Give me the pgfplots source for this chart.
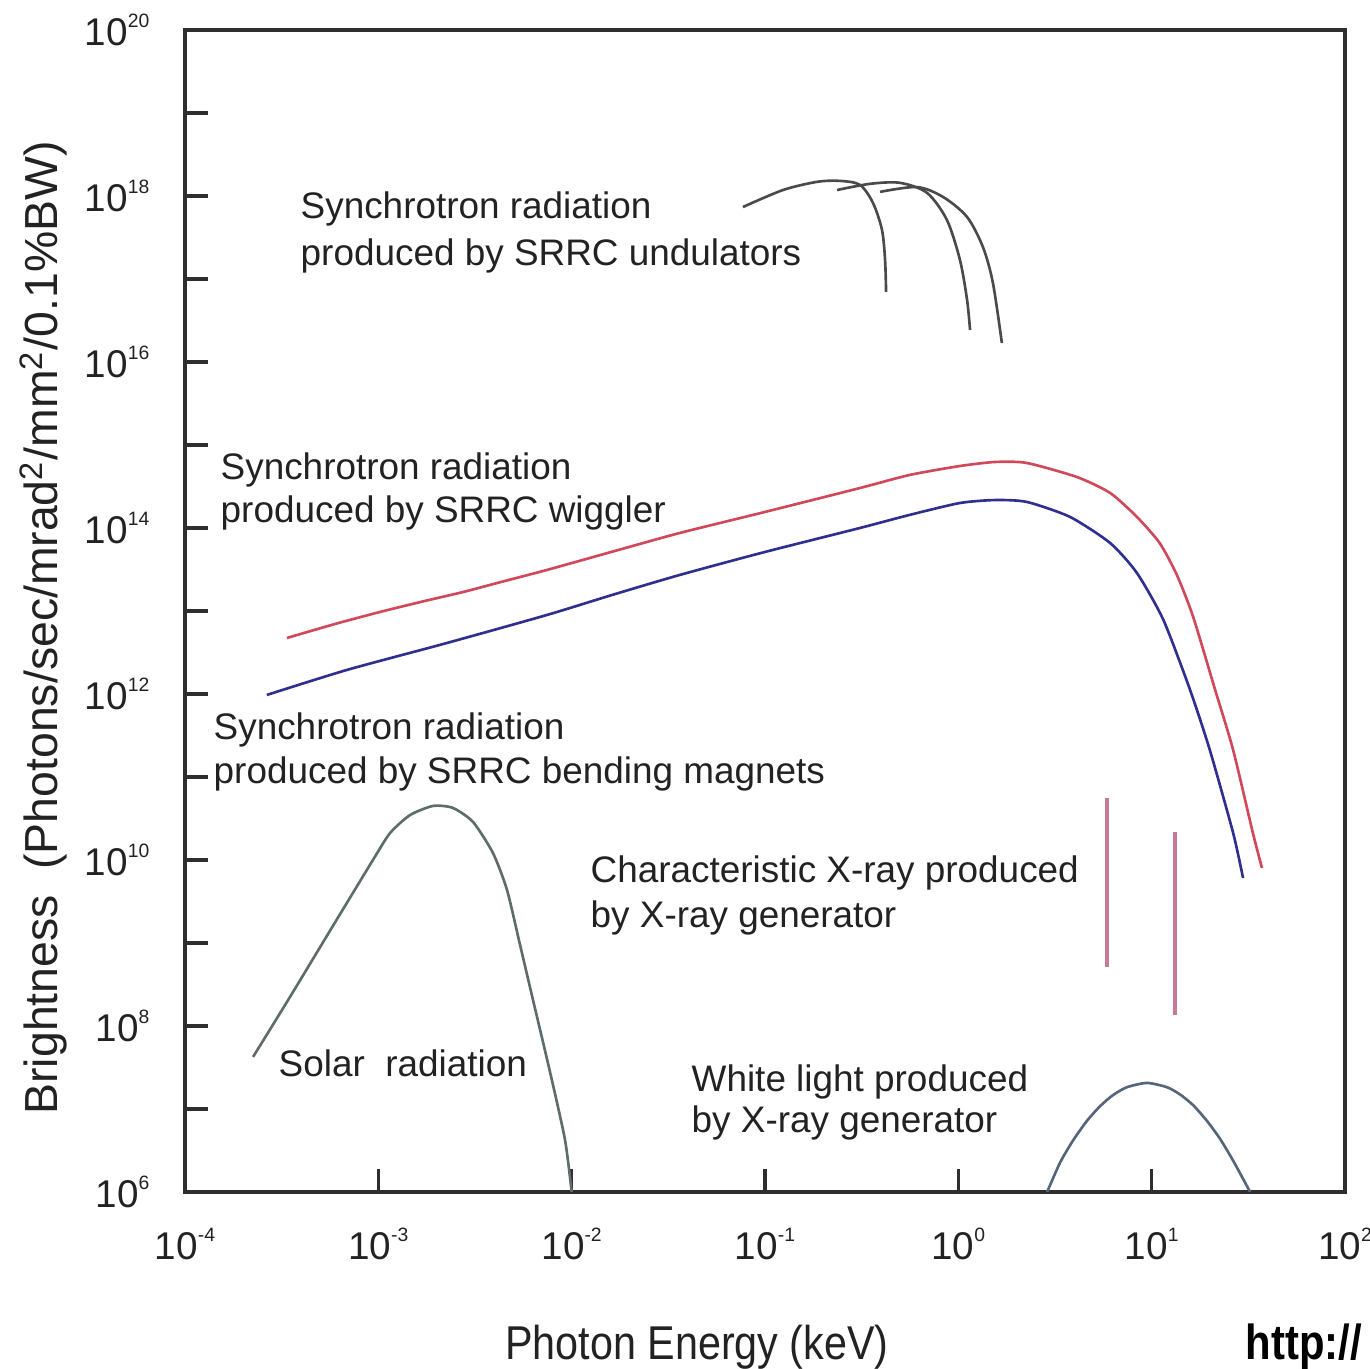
\documentclass[border=0pt]{standalone}
\usepackage{fontspec}
\setmainfont{Liberation Sans}
\usepackage{pgfplots}
\pgfplotsset{compat=1.18}
\usepackage{graphicx}
\definecolor{axisc}{HTML}{2E2E2E}
\definecolor{redc}{HTML}{D0485A}
\definecolor{bluec}{HTML}{2F2F8F}
\definecolor{undc}{HTML}{4A4A4A}
\definecolor{solc}{HTML}{5E6C6C}
\definecolor{whc}{HTML}{55657A}
\definecolor{chc}{HTML}{C87A94}
\definecolor{txt}{HTML}{222222}
\newcommand{\tl}[1]{10\raisebox{5.3pt}{\fontsize{5.5}{6}\selectfont #1}}
\begin{document}
\begin{tikzpicture}
\begin{axis}[
  at={(0,0)}, anchor=south west,
  scale only axis, width=116mm, height=116.2mm,
  xmode=log, ymode=log,
  xmin=1e-4, xmax=1e2, ymin=1e6, ymax=1e20,
  axis line style={line width=1.1pt, color=axisc},
  tick align=inside, xtick pos=bottom, ytick pos=left,
  major tick length=2.3mm,
  major tick style={line width=0.9pt, color=axisc},
  minor tick length=0pt, minor tick style={draw=none},
  xtick={1e-4,1e-3,1e-2,1e-1,1,1e1,1e2},
  xticklabels={\tl{-4},\tl{-3},\tl{-2},\tl{-1},\tl{0},\tl{1},\tl{2}},
  ytick={1e6,1e7,1e8,1e9,1e10,1e11,1e12,1e13,1e14,1e15,1e16,1e17,1e18,1e19,1e20},
  yticklabels={\tl{6},,\tl{8},,\tl{10},,\tl{12},,\tl{14},,\tl{16},,\tl{18},,\tl{20}},
  tick label style={font=\fontsize{11}{13}\selectfont, text=txt},
  xticklabel style={anchor=base, inner sep=0pt, yshift=-6.8mm},
  yticklabel style={anchor=east, inner sep=0pt, xshift=-3.5mm},
  every axis plot/.append style={line width=0.75pt},
]
% wiggler (red)
\addplot[redc, smooth, tension=0.4] coordinates {
(3.37e-4,4.73e12) (5.97e-4,6.97e12) (1.02e-3,9.73e12) (1.74e-3,1.32e13)
(2.74e-3,1.69e13) (4.52e-3,2.30e13) (7.45e-3,3.12e13) (1.67e-2,5.28e13)
(3.63e-2,8.71e13) (0.1,1.56e14) (0.31,3.03e14) (0.562,4.36e14) (1.02,5.58e14)
(1.55,6.24e14) (2.26,6.07e14) (4.11,4.11e14) (6.10,2.64e14) (8.39,1.36e14)
(11.0,6.59e13) (13.5,2.72e13) (16.4,8.47e12) (21.3,1.12e12) (26.4,2.11e11)
(33.4,2.11e10) (37.2,8.02e9)};
% bending magnets (blue)
\addplot[bluec, smooth, tension=0.4] coordinates {
(2.65e-4,9.73e11) (6.89e-4,1.95e12) (2.26e-3,4.11e12) (7.45e-3,8.95e12)
(1.62e-2,1.56e13) (3.63e-2,2.72e13) (0.1,5.14e13) (0.31,1.0e14) (0.562,1.44e14)
(1.02,2.0e14) (1.55,2.17e14) (2.26,2.06e14) (3.78,1.36e14) (6.10,6.59e13)
(8.39,2.87e13) (11.5,7.80e12) (15.8,1.12e12) (20.0,2.11e11) (26.4,2.11e10)
(29.7,6.07e9)};
% undulators
\addplot[undc, smooth, tension=0.5] coordinates {
(7.69e-2,7.36e17) (0.124,1.18e18) (0.186,1.48e18) (0.244,1.52e18) (0.31,1.36e18)
(0.362,8.24e17) (0.403,3.89e17) (0.418,1.69e17) (0.423,6.97e16)};
\addplot[undc, smooth, tension=0.5] coordinates {
(0.236,1.18e18) (0.349,1.40e18) (0.499,1.44e18) (0.689,1.09e18) (0.873,5.14e17)
(1.02,1.69e17) (1.11,5.58e16) (1.15,2.43e16)};
\addplot[undc, smooth, tension=0.5] coordinates {
(0.394,1.12e18) (0.611,1.28e18) (0.834,9.73e17) (1.11,5.58e17) (1.34,2.43e17)
(1.51,8.95e16) (1.68,1.69e16)};
% solar
\addplot[solc, smooth, tension=0.4] coordinates {
(2.25e-4,4.24e7) (3.49e-4,2.23e8) (5.62e-4,1.40e9) (9.38e-4,1.0e10)
(1.15e-3,2.11e10) (1.46e-3,3.48e10) (1.92e-3,4.48e10) (2.43e-3,4.24e10)
(3.09e-3,2.87e10) (3.92e-3,1.21e10) (4.63e-3,4.36e9) (5.41e-3,9.46e8)
(6.31e-3,2.06e8) (7.73e-3,2.79e7) (9.24e-3,4.24e6) (1.0e-2,1e6)};
% white light
\addplot[whc, smooth, tension=0.4] coordinates {
(2.88,1e6) (3.36,2.26e6) (3.92,4.17e6) (4.63,7.21e6) (5.41,1.08e7) (6.31,1.47e7)
(7.45,1.83e7) (9.46,2.06e7) (12.0,1.83e7) (14.0,1.50e7) (16.4,1.11e7)
(19.3,7.21e6) (22.6,4.36e6) (26.4,2.38e6) (32.3,1e6)};
% characteristic lines
\addplot[chc, line width=1.1pt] coordinates {(5.87,5.58e10) (5.87,5.14e8)};
\addplot[chc, line width=1.1pt] coordinates {(13.2,2.17e10) (13.2,1.36e8)};
\end{axis}
\begin{scope}[every node/.style={inner sep=0pt, anchor=base west, text=txt, font=\fontsize{10.5}{12}\selectfont}]
\node at (11.5mm,97.3mm) {Synchrotron radiation};
\node at (11.5mm,92.6mm) {produced by SRRC undulators};
\node at (3.5mm,71.2mm) {Synchrotron radiation};
\node at (3.5mm,66.9mm) {produced by SRRC wiggler};
\node at (2.8mm,45.2mm) {Synchrotron radiation};
\node at (2.8mm,40.8mm) {produced by SRRC bending magnets};
\node at (9.3mm,11.5mm) {Solar\ \ radiation};
\node at (40.5mm,30.9mm) {Characteristic X-ray produced};
\node at (40.5mm,26.4mm) {by X-ray generator};
\node at (50.6mm,10.0mm) {White light produced};
\node at (50.6mm,5.9mm) {by X-ray generator};
\end{scope}
\node[rotate=90, anchor=base, inner sep=0pt, text=txt] at (-12.7mm,56.4mm)
  {\fontsize{13.2}{15}\selectfont Brightness\ \ (Photons/sec/mrad\textsuperscript{2}/mm\textsuperscript{2}/0.1\%BW)};
\node[anchor=base, inner sep=0pt, text=txt] at (51.2mm,-16.8mm)
  {\scalebox{0.87}[1]{\fontsize{13.5}{15}\selectfont Photon Energy (keV)}};
\node[anchor=base west, inner sep=0pt] at (106mm,-16.8mm)
  {\scalebox{0.85}[1]{\fontsize{14}{16}\selectfont\bfseries http://}};
\pgfresetboundingbox
\path[use as bounding box] (-18.5mm,-17.7mm) rectangle (118.5mm,119.2mm);
\end{tikzpicture}
\end{document}
